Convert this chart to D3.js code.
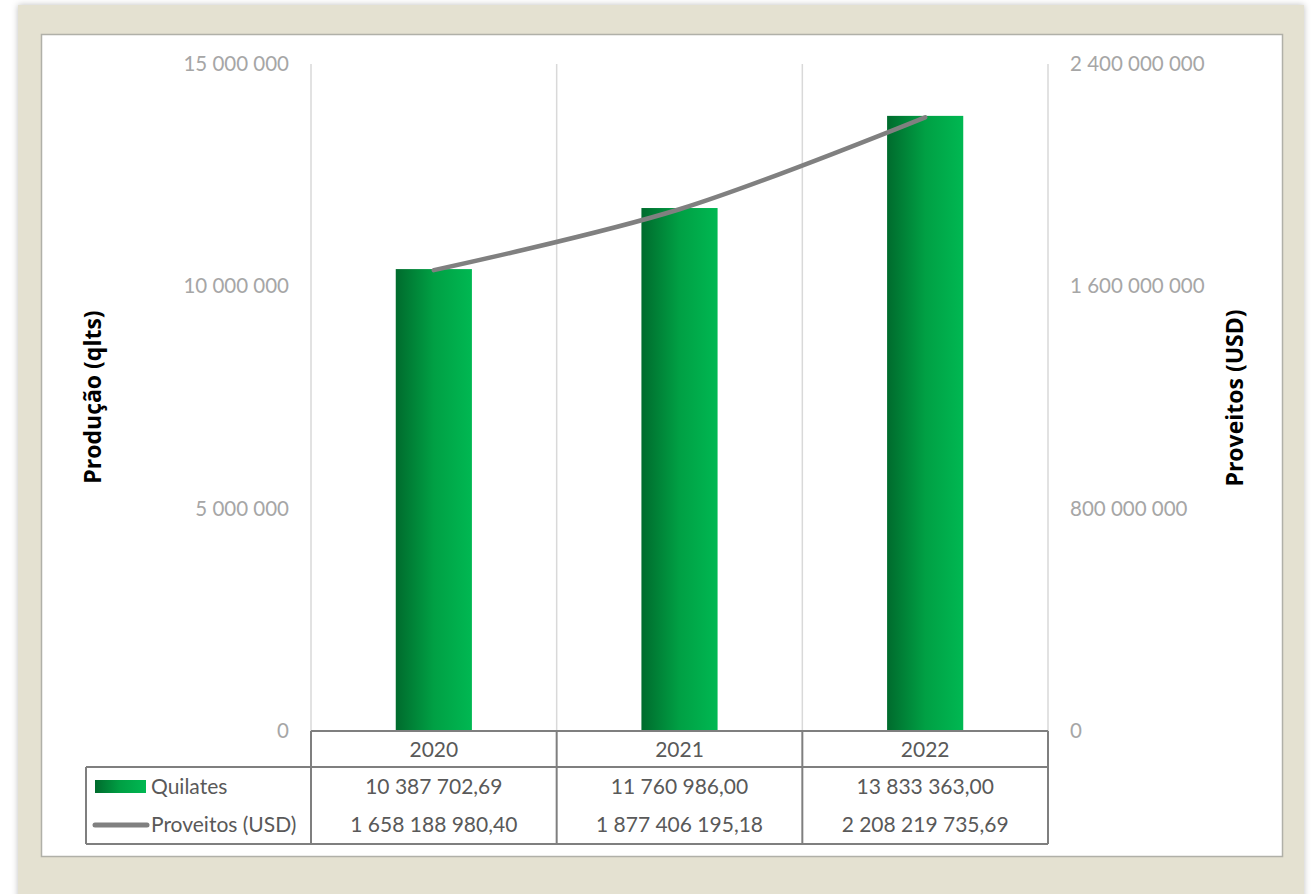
<!DOCTYPE html>
<html>
<head>
<meta charset="utf-8">
<script src="https://cdn.jsdelivr.net/npm/d3@7"></script>
<style>
  body { margin: 0; background: #fff; }
  svg { display: block; }
</style>
</head>
<body>
<div id="chart"></div>
<script>
const years = ["2020", "2021", "2022"];
const quilates = [10387702.69, 11760986.0, 13833363.0];
const proveitos = [1658188980.4, 1877406195.18, 2208219735.69];
const leftTicks = [0, 5000000, 10000000, 15000000];
const rightTicks = [0, 800000000, 1600000000, 2400000000];
const seriesNames = ["Quilates", "Proveitos (USD)"];

const width = 1312;
const height = 894;
const plot = { left: 311, right: 1048, top: 64, bottom: 731 };
const font = "Lato, 'Open Sans', sans-serif";
const titleFont = "'Open Sans', Lato, sans-serif";

const loc = d3.formatLocale({ decimal: ",", thousands: "\u00a0", grouping: [3], currency: ["", ""] });
const fmtInt = loc.format(",d");
const fmt2 = loc.format(",.2f");

const svg = d3.select("#chart").append("svg")
  .attr("width", width).attr("height", height);

const defs = svg.append("defs");
const grad = defs.append("linearGradient").attr("id", "barGrad")
  .attr("x1", "0%").attr("x2", "100%").attr("y1", "0%").attr("y2", "0%");
grad.append("stop").attr("offset", "0%").attr("stop-color", "#006B2D");
grad.append("stop").attr("offset", "50%").attr("stop-color", "#00A044");
grad.append("stop").attr("offset", "100%").attr("stop-color", "#00B852");

const shadow = defs.append("filter").attr("id", "shadow")
  .attr("x", "-5%").attr("y", "-5%").attr("width", "110%").attr("height", "110%");
shadow.append("feDropShadow").attr("dx", 0).attr("dy", 0)
  .attr("stdDeviation", 3).attr("flood-color", "#000").attr("flood-opacity", 0.25);

// background panels
svg.append("rect").attr("x", 18).attr("y", 5).attr("width", 1286).attr("height", 895)
  .attr("fill", "#E4E1D1").attr("filter", "url(#shadow)");
svg.append("rect").attr("x", 41.5).attr("y", 34.5).attr("width", 1241).attr("height", 822)
  .attr("fill", "#fff").attr("stroke", "#B0B0A8").attr("stroke-width", 1.5);

const x = d3.scaleBand().domain(years).range([plot.left, plot.right]).paddingInner(0).paddingOuter(0);
const yL = d3.scaleLinear().domain([0, 15000000]).range([plot.bottom, plot.top]);
const yR = d3.scaleLinear().domain([0, 2400000000]).range([plot.bottom, plot.top]);

// vertical gridlines at category boundaries
const bounds = years.map(d => x(d)).concat([x(years[years.length - 1]) + x.bandwidth()]);
svg.append("g").selectAll("line").data(bounds).enter().append("line")
  .attr("x1", d => d).attr("x2", d => d)
  .attr("y1", plot.top).attr("y2", plot.bottom)
  .attr("stroke", "#D9D9D9").attr("stroke-width", 1.5);

// left axis
const gL = svg.append("g").attr("transform", `translate(${plot.left - 22},0)`)
  .call(d3.axisLeft(yL).tickValues(leftTicks).tickSize(0).tickPadding(0).tickFormat(fmtInt));
gL.select(".domain").remove();
gL.selectAll("text").attr("fill", "#A6A6A6").style("font-family", font).style("font-size", "20.5px");

// right axis
const gR = svg.append("g").attr("transform", `translate(${plot.right + 22},0)`)
  .call(d3.axisRight(yR).tickValues(rightTicks).tickSize(0).tickPadding(0).tickFormat(fmtInt));
gR.select(".domain").remove();
gR.selectAll("text").attr("fill", "#A6A6A6").style("font-family", font).style("font-size", "20.5px");

// bars
const barW = x.bandwidth() * 0.31;
svg.append("g").selectAll("rect").data(years).enter().append("rect")
  .attr("x", d => x(d) + (x.bandwidth() - barW) / 2)
  .attr("y", (d, i) => yL(quilates[i]))
  .attr("width", barW)
  .attr("height", (d, i) => plot.bottom - yL(quilates[i]))
  .attr("fill", "url(#barGrad)");

// line
const line = d3.line()
  .x((d, i) => x(years[i]) + x.bandwidth() / 2)
  .y(d => yR(d))
  .curve(d3.curveCatmullRom.alpha(0));
svg.append("path").datum(proveitos)
  .attr("d", line)
  .attr("fill", "none").attr("stroke", "#808080")
  .attr("stroke-width", 4.5).attr("stroke-linecap", "round");

// axis titles
svg.append("text")
  .attr("transform", `translate(101,397) rotate(-90)`)
  .attr("text-anchor", "middle")
  .style("font-family", titleFont).style("font-size", "23px").style("font-weight", "bold")
  .text("Produção (qlts)");
svg.append("text")
  .attr("transform", `translate(1243,398) rotate(-90)`)
  .attr("text-anchor", "middle")
  .style("font-family", titleFont).style("font-size", "23px").style("font-weight", "bold")
  .text("Proveitos (USD)");

// data table
const tbl = { left: 86, headTop: plot.bottom, headBottom: 767, bottom: 844 };
const tg = svg.append("g").attr("stroke", "#7F7F7F").attr("stroke-width", 2).attr("fill", "none");
tg.append("line").attr("x1", plot.left).attr("x2", plot.right).attr("y1", tbl.headTop).attr("y2", tbl.headTop);
tg.append("line").attr("x1", tbl.left).attr("x2", plot.right).attr("y1", tbl.headBottom).attr("y2", tbl.headBottom);
tg.append("line").attr("x1", tbl.left).attr("x2", plot.right).attr("y1", tbl.bottom).attr("y2", tbl.bottom);
tg.append("line").attr("x1", tbl.left).attr("x2", tbl.left).attr("y1", tbl.headBottom).attr("y2", tbl.bottom);
tg.selectAll(".vb").data(bounds).enter().append("line")
  .attr("x1", d => d).attr("x2", d => d).attr("y1", tbl.headTop).attr("y2", tbl.bottom);

const textStyle = s => s.style("font-family", font).style("font-size", "21px").attr("fill", "#595959");

svg.append("g").selectAll("text").data(years).enter().append("text")
  .attr("x", d => x(d) + x.bandwidth() / 2).attr("y", 757)
  .attr("text-anchor", "middle").call(textStyle).text(d => d);

svg.append("g").selectAll("text").data(quilates).enter().append("text")
  .attr("x", (d, i) => x(years[i]) + x.bandwidth() / 2).attr("y", 794)
  .attr("text-anchor", "middle").call(textStyle).text(d => fmt2(d));

svg.append("g").selectAll("text").data(proveitos).enter().append("text")
  .attr("x", (d, i) => x(years[i]) + x.bandwidth() / 2).attr("y", 832)
  .attr("text-anchor", "middle").call(textStyle).text(d => fmt2(d));

// legend keys inside the table
svg.append("rect").attr("x", 95).attr("y", 780).attr("width", 51).attr("height", 13)
  .attr("fill", "url(#barGrad)");
svg.append("line").attr("x1", 95).attr("x2", 147).attr("y1", 825).attr("y2", 825)
  .attr("stroke", "#808080").attr("stroke-width", 5).attr("stroke-linecap", "round");
svg.append("text").attr("x", 151).attr("y", 794).call(textStyle).text(seriesNames[0]);
svg.append("text").attr("x", 151).attr("y", 832).call(textStyle).text(seriesNames[1]);
</script>
</body>
</html>
